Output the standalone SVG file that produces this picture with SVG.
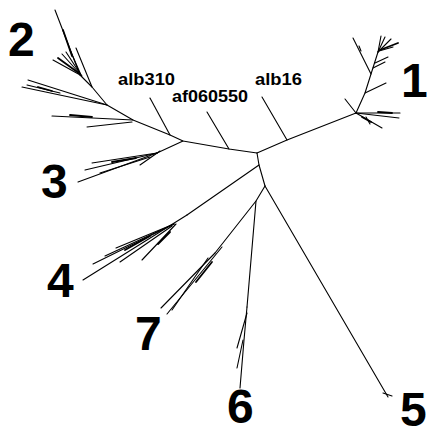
<svg xmlns="http://www.w3.org/2000/svg" width="427" height="428" viewBox="0 0 427 428">
  <style>
    .br { fill: none; stroke: #000; stroke-width: 1.1; stroke-linecap: round; stroke-linejoin: round; }
    .tk { fill: none; stroke: #000; stroke-width: 1.8; stroke-linecap: round; }
    .num { font-family: "Liberation Sans", Arial, sans-serif; font-weight: bold; font-size: 48px; fill: #000; }
    .lab { font-family: "Liberation Sans", Arial, sans-serif; font-weight: bold; font-size: 17px; fill: #000; }
  </style>
  <rect width="427" height="428" fill="#fff"/>

  <!-- internal backbone of the unrooted tree -->
  <g id="connectors">
    <polyline class="br" points="257,153 287,140 356,113"/>
    <polyline class="br" points="257,153 229,149 183,141 170,135 133,120 107,105 92,87 80,75"/>
    <polyline class="br" points="257,153 259,165 265,186"/>
    <polyline class="br" points="259,165 187,215"/>
    <polyline class="br" points="265,186 256,201 215,253"/>
    <polyline class="br" points="256,201 247,307"/>
    <polyline class="br" points="183,141 157,153"/>
  </g>

  <!-- single reference strains -->
  <g id="alb16">
    <line class="br" x1="287" y1="140" x2="262" y2="97"/>
    <text class="lab" x="255" y="85" textLength="47" lengthAdjust="spacingAndGlyphs">alb16</text>
  </g>
  <g id="af060550">
    <line class="br" x1="229" y1="149" x2="207" y2="112"/>
    <text class="lab" x="172" y="102" textLength="76" lengthAdjust="spacingAndGlyphs">af060550</text>
  </g>
  <g id="alb310">
    <line class="br" x1="170" y1="135" x2="150" y2="98"/>
    <text class="lab" x="118" y="85" textLength="57" lengthAdjust="spacingAndGlyphs">alb310</text>
  </g>

  <!-- cluster 1 -->
  <g id="cluster1">
    <line class="br" x1="356" y1="113" x2="345" y2="99"/>
    <polyline class="br" points="356,113 365,93 371,74 378,52"/>
    <line class="br" x1="371" y1="74" x2="353" y2="38"/>
    <line class="br" x1="359" y1="46" x2="361" y2="51"/>
    <line class="br" x1="365" y1="93" x2="386" y2="83"/>
    <line class="br" x1="373" y1="68" x2="385" y2="62"/>
    <line class="br" x1="375" y1="63" x2="388" y2="57"/>
    <line class="br" x1="378" y1="52" x2="381" y2="36"/>
    <line class="br" x1="378" y1="52" x2="385" y2="37"/>
    <line class="br" x1="378" y1="52" x2="391" y2="39"/>
    <line class="tk" x1="380" y1="50" x2="398" y2="43"/>
    <line class="br" x1="379" y1="51" x2="393" y2="47"/>
    <line class="br" x1="356" y1="113" x2="400" y2="113"/>
    <line class="br" x1="356" y1="113" x2="399" y2="118"/>
    <line class="tk" x1="378" y1="112" x2="392" y2="113"/>
    <line class="br" x1="356" y1="113" x2="382" y2="128"/>
    <line class="tk" x1="362" y1="117" x2="371" y2="122"/>
    <line class="br" x1="366" y1="117" x2="370" y2="124"/>
    <text class="num" x="401" y="97">1</text>
  </g>

  <!-- cluster 2 -->
  <g id="cluster2">
    <line class="br" x1="80" y1="75" x2="55" y2="10"/>
    <line class="tk" x1="63" y1="30" x2="72" y2="56"/>
    <line class="br" x1="82" y1="76" x2="53" y2="60"/>
    <line class="tk" x1="80" y1="74" x2="58" y2="58"/>
    <line class="br" x1="81" y1="75" x2="62" y2="54"/>
    <line class="br" x1="81" y1="75" x2="66" y2="52"/>
    <line class="br" x1="81" y1="75" x2="70" y2="50"/>
    <line class="br" x1="92" y1="87" x2="76" y2="48"/>
    <line class="br" x1="107" y1="105" x2="28" y2="80"/>
    <line class="br" x1="107" y1="105" x2="22" y2="87"/>
    <line class="br" x1="60" y1="93" x2="27" y2="85"/>
    <line class="tk" x1="38" y1="87" x2="52" y2="91"/>
    <line class="br" x1="133" y1="120" x2="52" y2="116"/>
    <line class="tk" x1="70" y1="115" x2="92" y2="117"/>
    <line class="br" x1="132" y1="122" x2="87" y2="127"/>
    <text class="num" x="8" y="56">2</text>
  </g>

  <!-- cluster 3 -->
  <g id="cluster3">
    <line class="br" x1="157" y1="153" x2="92" y2="163"/>
    <line class="br" x1="157" y1="153" x2="85" y2="170"/>
    <line class="br" x1="157" y1="153" x2="78" y2="182"/>
    <line class="tk" x1="112" y1="162" x2="136" y2="158"/>
    <line class="br" x1="150" y1="157" x2="100" y2="173"/>
    <line class="br" x1="160" y1="151" x2="140" y2="165"/>
    <text class="num" x="41" y="198">3</text>
  </g>

  <!-- cluster 4 -->
  <g id="cluster4">
    <line class="br" x1="187" y1="215" x2="83" y2="280"/>
    <line class="br" x1="174" y1="224" x2="116" y2="248"/>
    <line class="br" x1="174" y1="224" x2="93" y2="264"/>
    <line class="br" x1="174" y1="224" x2="105" y2="256"/>
    <line class="tk" x1="150" y1="236" x2="125" y2="250"/>
    <line class="br" x1="172" y1="226" x2="120" y2="262"/>
    <line class="br" x1="176" y1="224" x2="142" y2="260"/>
    <line class="tk" x1="170" y1="232" x2="158" y2="244"/>
    <text class="num" x="47" y="297">4</text>
  </g>

  <!-- cluster 5 -->
  <g id="cluster5">
    <line class="br" x1="265" y1="186" x2="388" y2="397"/>
    <line class="br" x1="383" y1="393" x2="392" y2="396"/>
    <text class="num" x="400" y="426">5</text>
  </g>

  <!-- cluster 6 -->
  <g id="cluster6">
    <polyline class="br" points="247,307 244,340 240,388"/>
    <line class="br" x1="247" y1="313" x2="237" y2="348"/>
    <line class="br" x1="243" y1="340" x2="237" y2="368"/>
    <text class="num" x="227" y="423">6</text>
  </g>

  <!-- cluster 7 -->
  <g id="cluster7">
    <line class="br" x1="215" y1="253" x2="161" y2="308"/>
    <line class="br" x1="222" y1="247" x2="167" y2="314"/>
    <line class="br" x1="208" y1="258" x2="172" y2="310"/>
    <line class="tk" x1="212" y1="262" x2="196" y2="282"/>
    <text class="num" x="135" y="350">7</text>
  </g>
</svg>
